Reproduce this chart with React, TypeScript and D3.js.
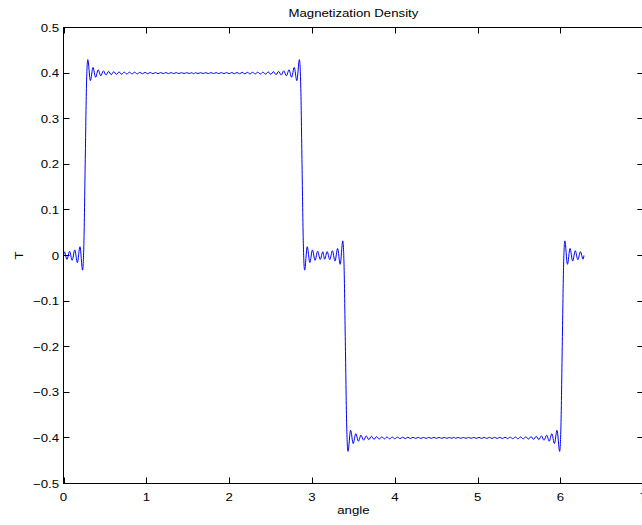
import React from "react";
import * as d3 from "d3";

const W = 642;
const H = 525;

const title = "Magnetization Density";
const xLabel = "angle";
const yLabel = "T";
const xTicks = [0, 1, 2, 3, 4, 5, 6, 7];
const yTicks = [-0.5, -0.4, -0.3, -0.2, -0.1, 0, 0.1, 0.2, 0.3, 0.4, 0.5];

// [angle in degrees, T], segment by segment
const zoneStart: [number, number][] = [
  [0, 0], [0.6, 0.0081], [2.4, -0.0085], [4.2, 0.0093], [6, -0.0105], [7.8, 0.0123],
  [9.6, -0.0154], [11.4, 0.0193], [13.2, -0.0321],
];

const poleNorth: [number, number][] = [
  [14.1, 0.026], [15, 0.2], [15.9, 0.374],
  [16.8, 0.4296], [18.6, 0.3834], [20.4, 0.4123], [22.2, 0.3908], [24, 0.4073], [25.8, 0.394],
  [27.6, 0.4051], [29.4, 0.3956], [31.2, 0.4039], [33, 0.3965], [34.8, 0.4031], [36.6, 0.3972],
  [38.4, 0.4026], [40.2, 0.3976], [42, 0.4022], [43.8, 0.3979], [45.6, 0.402], [47.4, 0.3982],
  [49.2, 0.4018], [51, 0.3983], [52.8, 0.4016], [54.6, 0.3985], [56.4, 0.4015], [58.2, 0.3986],
  [60, 0.4013], [61.8, 0.3987], [63.6, 0.4012], [65.4, 0.3988], [67.2, 0.4012], [69, 0.3989],
  [70.8, 0.4011], [72.6, 0.3989], [74.4, 0.401], [76.2, 0.399], [78, 0.401], [79.8, 0.399],
  [81.6, 0.4009], [83.4, 0.3991], [85.2, 0.4009], [87, 0.3991], [88.8, 0.4009],
  [90, 0.3985],
  [91.2, 0.4009], [93, 0.3991], [94.8, 0.4009], [96.6, 0.3991], [98.4, 0.4009], [100.2, 0.399],
  [102, 0.401], [103.8, 0.399], [105.6, 0.401], [107.4, 0.3989], [109.2, 0.4011], [111, 0.3989],
  [112.8, 0.4012], [114.6, 0.3988], [116.4, 0.4012], [118.2, 0.3987], [120, 0.4013], [121.8, 0.3986],
  [123.6, 0.4015], [125.4, 0.3985], [127.2, 0.4016], [129, 0.3983], [130.8, 0.4018], [132.6, 0.3982],
  [134.4, 0.402], [136.2, 0.3979], [138, 0.4022], [139.8, 0.3976], [141.6, 0.4026], [143.4, 0.3972],
  [145.2, 0.4031], [147, 0.3965], [148.8, 0.4039], [150.6, 0.3956], [152.4, 0.4051], [154.2, 0.394],
  [156, 0.4073], [157.8, 0.3908], [159.6, 0.4123], [161.4, 0.3834], [163.2, 0.4296],
  [164.1, 0.374], [165, 0.2], [165.9, 0.026],
];

const zoneMid: [number, number][] = [
  [166.8, -0.0321], [168.6, 0.0193], [170.4, -0.0154], [172.2, 0.0123], [174, -0.0105],
  [175.8, 0.0093], [177.6, -0.0085], [179.4, 0.0081], [180, 0], [180.6, -0.0081],
  [182.4, 0.0085], [184.2, -0.0093], [186, 0.0105], [187.8, -0.0123], [189.6, 0.0154],
  [191.4, -0.0193], [193.2, 0.0321],
];

const poleSouth: [number, number][] = [
  [194.1, -0.026], [195, -0.2], [195.9, -0.374],
  [196.8, -0.4296], [198.6, -0.3834], [200.4, -0.4123], [202.2, -0.3908], [204, -0.4073], [205.8, -0.394],
  [207.6, -0.4051], [209.4, -0.3956], [211.2, -0.4039], [213, -0.3965], [214.8, -0.4031], [216.6, -0.3972],
  [218.4, -0.4026], [220.2, -0.3976], [222, -0.4022], [223.8, -0.3979], [225.6, -0.402], [227.4, -0.3982],
  [229.2, -0.4018], [231, -0.3983], [232.8, -0.4016], [234.6, -0.3985], [236.4, -0.4015], [238.2, -0.3986],
  [240, -0.4013], [241.8, -0.3987], [243.6, -0.4012], [245.4, -0.3988], [247.2, -0.4012], [249, -0.3989],
  [250.8, -0.4011], [252.6, -0.3989], [254.4, -0.401], [256.2, -0.399], [258, -0.401], [259.8, -0.399],
  [261.6, -0.4009], [263.4, -0.3991], [265.2, -0.4009], [267, -0.3991], [268.8, -0.4009],
  [270, -0.3985],
  [271.2, -0.4009], [273, -0.3991], [274.8, -0.4009], [276.6, -0.3991], [278.4, -0.4009], [280.2, -0.399],
  [282, -0.401], [283.8, -0.399], [285.6, -0.401], [287.4, -0.3989], [289.2, -0.4011], [291, -0.3989],
  [292.8, -0.4012], [294.6, -0.3988], [296.4, -0.4012], [298.2, -0.3987], [300, -0.4013], [301.8, -0.3986],
  [303.6, -0.4015], [305.4, -0.3985], [307.2, -0.4016], [309, -0.3983], [310.8, -0.4018], [312.6, -0.3982],
  [314.4, -0.402], [316.2, -0.3979], [318, -0.4022], [319.8, -0.3976], [321.6, -0.4026], [323.4, -0.3972],
  [325.2, -0.4031], [327, -0.3965], [328.8, -0.4039], [330.6, -0.3956], [332.4, -0.4051], [334.2, -0.394],
  [336, -0.4073], [337.8, -0.3908], [339.6, -0.4123], [341.4, -0.3834], [343.2, -0.4296],
  [344.1, -0.374], [345, -0.2], [345.9, -0.026],
];

const zoneEnd: [number, number][] = [
  [346.8, 0.0321], [348.6, -0.0193], [350.4, 0.0154], [352.2, -0.0123], [354, 0.0105],
  [355.8, -0.0093], [357.6, 0.0085], [359.4, -0.0081], [360, 0],
];

const FONT = "'Liberation Sans', Arial, Helvetica, sans-serif";
const FS = 11.5;
const SX = 1.15;

function fmtY(v: number) {
  if (Math.abs(v) < 1e-9) return "0";
  const s = Math.abs(v).toFixed(1);
  return v < 0 ? "\u2212" + s : s;
}

export default function App() {
  const x = d3.scaleLinear().domain([0, 7]).range([63.5, 643.3]);
  const y = d3.scaleLinear().domain([-0.5, 0.5]).range([483.5, 27.5]);

  const data = [...zoneStart, ...poleNorth, ...zoneMid, ...poleSouth, ...zoneEnd].map(
    ([deg, t]) => ({ angle: (deg * Math.PI) / 180, t })
  );

  const line = d3
    .line<{ angle: number; t: number }>()
    .x((d) => x(d.angle))
    .y((d) => y(d.t))
    .curve(d3.curveMonotoneX);

  const [x0, x1] = x.range();
  const [yb, yt] = y.range();
  const tick = 6;
  const xMid = (x0 + x1) / 2;

  return (
    <svg
      width={W}
      height={H}
      style={{ position: "absolute", left: 0, top: 0, display: "block", background: "#fff" }}
      fontFamily={FONT}
      fontSize={FS}
    >
      <rect x={0} y={0} width={W} height={H} fill="#fff" />
      {/* data line */}
      <path d={line(data) || ""} fill="none" stroke="#0000ff" strokeWidth={1} />

      {/* frame */}
      <rect x={x0} y={yt} width={x1 - x0} height={yb - yt} fill="none" stroke="#000" strokeWidth={1} />

      {/* x ticks */}
      {xTicks.map((t) => {
        const px = Math.round(x(t)) + 0.5;
        return (
          <g key={"xt" + t}>
            <line x1={px} x2={px} y1={yb} y2={yb - tick} stroke="#000" />
            <line x1={px} x2={px} y1={yt} y2={yt + tick} stroke="#000" />
            <text
              transform={`translate(${x(t)},501) scale(${SX},1)`}
              textAnchor="middle"
              fill="#000"
            >
              {String(t)}
            </text>
          </g>
        );
      })}

      {/* y ticks */}
      {yTicks.map((t) => {
        const py = Math.round(y(t) - 0.5) + 0.5;
        return (
          <g key={"yt" + t}>
            <line x1={x0} x2={x0 + tick} y1={py} y2={py} stroke="#000" />
            <line x1={x1} x2={x1 - tick} y1={py} y2={py} stroke="#000" />
            <text
              transform={`translate(59,${y(t) + 4}) scale(${SX},1)`}
              textAnchor="end"
              fill="#000"
            >
              {fmtY(t)}
            </text>
          </g>
        );
      })}

      {/* title and axis labels */}
      <text transform={`translate(${xMid},16.5) scale(${SX},1)`} textAnchor="middle" fill="#000">
        {title}
      </text>
      <text transform={`translate(${xMid},514) scale(${SX},1)`} textAnchor="middle" fill="#000">
        {xLabel}
      </text>
      <text
        transform={`translate(23,${y(0)}) rotate(-90) scale(${SX},1)`}
        textAnchor="middle"
        fill="#000"
      >
        {yLabel}
      </text>
    </svg>
  );
}
